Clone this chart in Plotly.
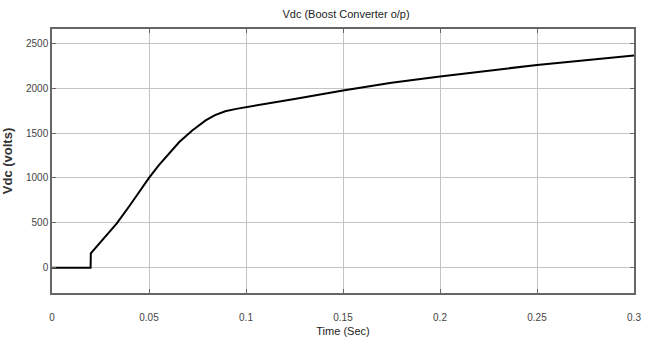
import plotly.graph_objects as go

time_s = [0, 0.0199, 0.02, 0.023, 0.0266, 0.03, 0.0334, 0.04, 0.045, 0.05, 0.055, 0.0588,
          0.0656, 0.0723, 0.0792, 0.084, 0.0893, 0.095, 0.1, 0.11, 0.125, 0.15, 0.175,
          0.2, 0.225, 0.25, 0.275, 0.3]
vdc = [0, 0, 160, 235, 327, 405, 493, 690, 845, 1000, 1140, 1233,
       1400, 1530, 1641, 1700, 1744, 1770, 1787, 1822, 1880, 1975, 2060,
       2130, 2195, 2260, 2312, 2365]

x_ticks = [0, 0.05, 0.1, 0.15, 0.2, 0.25, 0.3]
x_tick_labels = ["0", "0.05", "0.1", "0.15", "0.2", "0.25", "0.3"]
y_ticks = [0, 500, 1000, 1500, 2000, 2500]
y_tick_labels = ["0", "500", "1000", "1500", "2000", "2500"]

narrow = "Liberation Sans Narrow, Arial Narrow, Liberation Sans, Arial, sans-serif"

fig = go.Figure()
fig.add_trace(go.Scatter(x=time_s, y=vdc, mode="lines",
                         line=dict(color="black", width=2),
                         showlegend=False))

axis_common = dict(showline=True, linecolor="#666666", linewidth=1.5, mirror="ticks",
                   ticks="inside", ticklen=4, tickcolor="#666666",
                   showgrid=True, gridcolor="#c4c4c4", gridwidth=1, zeroline=False,
                   tickfont=dict(family=narrow, size=10, color="#444444"))

fig.update_layout(
    width=648, height=345,
    margin=dict(l=51, r=7, t=29, b=52),
    paper_bgcolor="white", plot_bgcolor="white",
    title=dict(text="Vdc (Boost Converter o/p)", x=0.534, xanchor="center", y=0.96, yanchor="middle",
               font=dict(family=narrow, size=11, color="#222222")),
    xaxis=dict(range=[0, 0.3], tickvals=x_ticks, ticktext=x_tick_labels, ticklabelstandoff=14,
               title=dict(text="Time (Sec)", font=dict(family=narrow, size=11, color="#222222"), standoff=6),
               **axis_common),
    yaxis=dict(range=[-282, 2660], tickvals=y_ticks, ticktext=y_tick_labels,
               title=dict(text="<b>Vdc (volts)</b>", font=dict(family="Liberation Sans, Arial", size=13, color="#333333"), standoff=10),
               **axis_common),
)

fig.write_html("out.html")
